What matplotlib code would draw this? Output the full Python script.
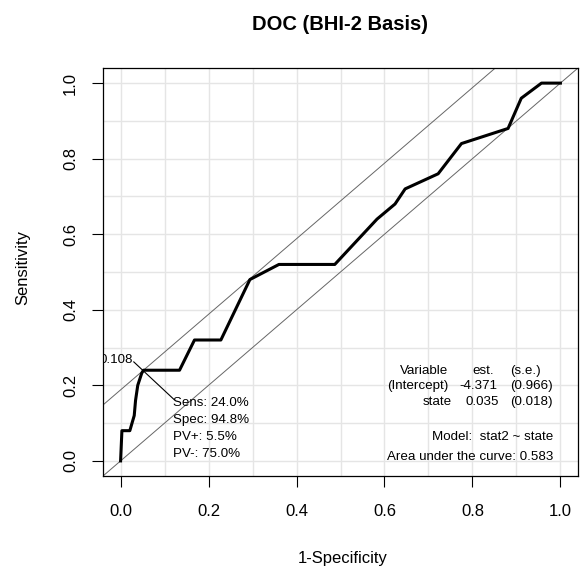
import matplotlib.pyplot as plt
import numpy as np

plt.rcParams['font.family'] = ['Liberation Sans', 'DejaVu Sans']

# ROC curve (1-specificity, sensitivity)
fpr = [0.0, 0.003, 0.021, 0.026, 0.031, 0.034, 0.039, 0.048, 0.052, 0.134,
       0.168, 0.228, 0.294, 0.360, 0.487, 0.583, 0.624, 0.647, 0.722, 0.775,
       0.881, 0.911, 0.957, 1.0]
tpr = [0.0, 0.08, 0.08, 0.10, 0.12, 0.16, 0.20, 0.232, 0.24, 0.24,
       0.32, 0.32, 0.48, 0.52, 0.52, 0.64, 0.68, 0.72, 0.76, 0.84,
       0.88, 0.96, 1.0, 1.0]

# optimal cut point
opt_fpr = 0.052
opt_sens = 0.24
opt_cut = "0.108"
opt_lines = ["Sens: 24.0%", "Spec: 94.8%", "PV+: 5.5%", "PV-: 75.0%"]

# model table
tab_rows = [["Variable", "est.", "(s.e.)"],
            ["(Intercept)", "-4.371", "(0.966)"],
            ["state", "0.035", "(0.018)"]]
model_txt = "Model:  stat2 ~ state"
auc_txt = "Area under the curve: 0.583"

ticks = [0.0, 0.2, 0.4, 0.6, 0.8, 1.0]

W, H = 581, 569
fig = plt.figure(figsize=(W / 100, H / 100), dpi=100, facecolor='white')
ax = fig.add_axes([103 / W, 1 - 476 / H, 475 / W, 408 / H])

# grid like abline(h=, v=, col=gray(.9))
for g in np.arange(0, 1.01, 0.1):
    ax.axvline(g, color='#e5e5e5', lw=1.0, zorder=0)
    ax.axhline(g, color='#e5e5e5', lw=1.0, zorder=0)

ax.axline((0, 0), slope=1, color='#666666', lw=0.7, zorder=1)
ax.axline((0, opt_sens - opt_fpr), slope=1, color='#666666', lw=0.7, zorder=1)

ax.plot(fpr, tpr, color='black', lw=2.2, zorder=3, solid_joinstyle='round')

# cut point label and pointer
ax.plot([0.030, 0.122], [0.262, 0.162], color='black', lw=0.8, zorder=2)
ax.text(0.028, 0.266, opt_cut, ha='right', va='center', fontsize=9.6, clip_on=True)
for i, s in enumerate(opt_lines):
    ax.text(0.12, 0.152 - i * 0.0445, s, ha='left', va='center', fontsize=9.6)

# model table
col_x = [[0.745, 0.848, 0.956], [0.745, 0.857, 0.983], [0.754, 0.860, 0.983]]
row_y = [0.2375, 0.1976, 0.155]
for r, row in enumerate(tab_rows):
    for c, s in enumerate(row):
        ax.text(col_x[r][c], row_y[r], s, ha='right', va='center', fontsize=9.6)
ax.text(0.983, 0.062, model_txt, ha='right', va='center', fontsize=9.6)
ax.text(0.983, 0.009, auc_txt, ha='right', va='center', fontsize=9.6)

ax.set_xlim(-0.04, 1.04)
ax.set_ylim(-0.04, 1.04)
ax.set_xticks(ticks)
ax.set_yticks(ticks)
ax.set_xticklabels([f"{t:.1f}" for t in ticks])
ax.set_yticklabels([f"{t:.1f}" for t in ticks], rotation=90, va='center')
ax.tick_params(direction='out', length=8, width=0.8, labelsize=12, color='black')
ax.tick_params(axis='x', pad=12)
ax.tick_params(axis='y', pad=10)
for sp in ax.spines.values():
    sp.set_linewidth(0.9)
    sp.set_color('black')

fig.text(340.5 / W, 1 - 25 / H, "DOC (BHI-2 Basis)", ha='center', va='center',
         fontsize=14.5, fontweight='bold')
fig.text(343 / W, 1 - 558 / H, "1-Specificity", ha='center', va='center', fontsize=12)
fig.text(23 / W, 1 - 268 / H, "Sensitivity", ha='center', va='center',
         rotation=90, fontsize=12)

fig.savefig('out.png', dpi=100, facecolor='white')
